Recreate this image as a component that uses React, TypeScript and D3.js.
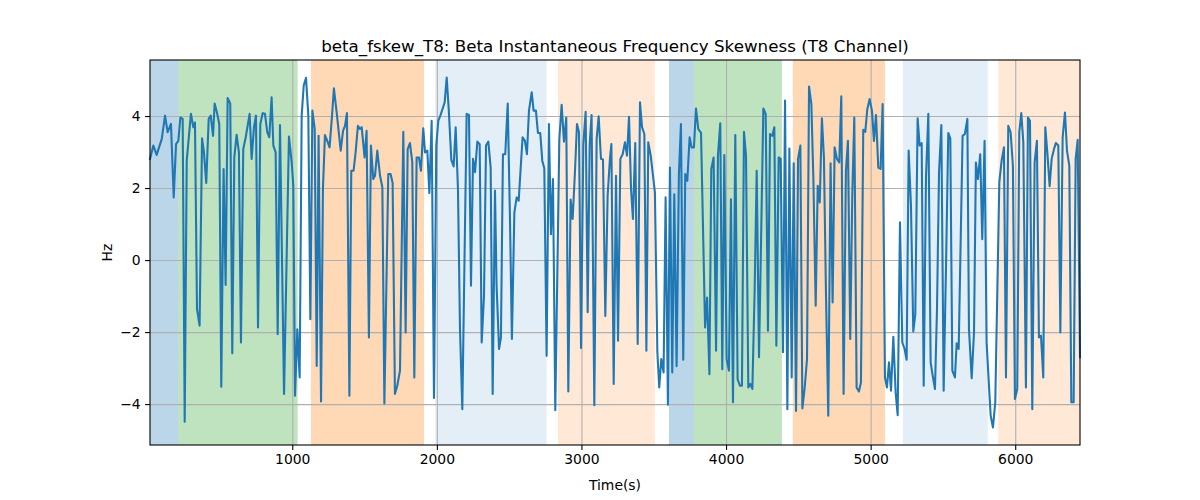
import { useEffect, useRef } from "react";
import * as d3 from "d3";

const W = 1200, H = 500;
const M = { top: 60, right: 120, bottom: 55, left: 150 };

const TITLE = "beta_fskew_T8: Beta Instantaneous Frequency Skewness (T8 Channel)";
const X_LABEL = "Time(s)";
const Y_LABEL = "Hz";

const X_TICKS = [1000, 2000, 3000, 4000, 5000, 6000];
const Y_TICKS = [-4, -2, 0, 2, 4];

// shaded periods
const regionStart = [16, 212, 1129, 1989, 2837, 3605, 3778, 4462, 5224, 5882];
const regionEnd   = [212, 1037, 1911, 2759, 3508, 3778, 4386, 5099, 5810, 6448];
const regionColor = ["#1f77b4", "#2ca02c", "#ff7f0e", "#1f77b4", "#ff7f0e", "#1f77b4", "#2ca02c", "#ff7f0e", "#1f77b4", "#ff7f0e"];
const regionAlpha = [0.3, 0.3, 0.3, 0.12, 0.17, 0.3, 0.3, 0.3, 0.12, 0.17];

const times = [
  16, 39, 62, 97, 120, 138, 161, 180, 196, 212, 226, 242, 256, 270, 299, 316, 327, 341, 359, 376,
  389, 405, 422, 436, 452, 463, 479, 495, 509, 525, 539, 553, 571, 585, 599, 615, 631, 645, 661, 678,
  705, 719, 735, 749, 763, 779, 795, 811, 827, 841, 857, 869, 885, 899, 915, 943, 977, 996, 1007, 1019,
  1035, 1051, 1065, 1079, 1095, 1111, 1125, 1139, 1155, 1169, 1182, 1199, 1212, 1226, 1242, 1258, 1275, 1288, 1307, 1335,
  1351, 1365, 1378, 1395, 1408, 1424, 1438, 1454, 1468, 1480, 1500, 1514, 1530, 1544, 1560, 1572, 1588, 1607, 1623, 1637,
  1664, 1680, 1694, 1710, 1726, 1745, 1768, 1784, 1798, 1814, 1830, 1844, 1860, 1876, 1890, 1906, 1918, 1934, 1948, 1964,
  1980, 1996, 2010, 2024, 2038, 2054, 2068, 2082, 2100, 2116, 2130, 2146, 2160, 2176, 2206, 2222, 2236, 2250, 2264, 2280,
  2296, 2310, 2326, 2340, 2356, 2372, 2386, 2402, 2413, 2430, 2443, 2457, 2473, 2490, 2506, 2519, 2536, 2552, 2566, 2582,
  2593, 2609, 2623, 2637, 2656, 2669, 2685, 2699, 2715, 2729, 2743, 2759, 2775, 2789, 2803, 2819, 2847, 2863, 2879, 2895,
  2909, 2925, 2939, 2955, 2969, 2983, 2997, 3013, 3029, 3043, 3057, 3070, 3089, 3105, 3119, 3135, 3149, 3165, 3181, 3197,
  3207, 3223, 3239, 3253, 3269, 3285, 3301, 3315, 3329, 3343, 3356, 3372, 3389, 3405, 3419, 3435, 3449, 3462, 3479, 3495,
  3508, 3525, 3538, 3552, 3568, 3582, 3598, 3612, 3628, 3642, 3658, 3674, 3688, 3704, 3718, 3732, 3748, 3762, 3778, 3792,
  3808, 3827, 3855, 3869, 3885, 3898, 3914, 3931, 3944, 3960, 3974, 3988, 4004, 4020, 4034, 4048, 4064, 4080, 4096, 4110,
  4124, 4138, 4154, 4168, 4182, 4198, 4212, 4228, 4242, 4258, 4274, 4290, 4304, 4320, 4334, 4348, 4364, 4378, 4394, 4408,
  4424, 4438, 4454, 4468, 4484, 4498, 4514, 4528, 4544, 4560, 4574, 4590, 4604, 4620, 4634, 4648, 4663, 4677, 4691, 4707,
  4723, 4737, 4751, 4767, 4783, 4797, 4813, 4829, 4843, 4859, 4873, 4887, 4903, 4919, 4933, 4949, 4963, 4977, 4993, 5009,
  5023, 5037, 5053, 5069, 5083, 5099, 5113, 5127, 5141, 5157, 5173, 5187, 5203, 5219, 5235, 5249, 5263, 5279, 5295, 5309,
  5325, 5339, 5353, 5367, 5383, 5399, 5415, 5429, 5445, 5459, 5473, 5489, 5505, 5521, 5537, 5551, 5565, 5583, 5595, 5609,
  5636, 5652, 5669, 5680, 5699, 5715, 5728, 5742, 5758, 5772, 5788, 5802, 5830, 5846, 5862, 5890, 5906, 5922, 5936, 5952,
  5968, 5984, 5998, 6014, 6028, 6042, 6056, 6074, 6088, 6102, 6118, 6134, 6150, 6164, 6178, 6194, 6208, 6222, 6238, 6252,
  6268, 6281, 6298, 6312, 6328, 6344, 6358, 6374, 6388, 6404, 6418, 6432, 6448,
];

const values = [
  2.81, 3.18, 2.92, 3.36, 4.01, 3.55, 3.78, 1.74, 3.22, 3.31, 3.96, 3.92, -4.49, 2.76, 4.06, 3.69, 3.82, -1.36, -1.82, 3.38,
  2.99, 2.14, 3.92, 4.01, 3.45, 4.35, 4.10, 3.78, -3.52, 2.53, -0.69, 4.50, 4.35, -2.59, 2.85, 3.48, 2.99, -2.29, 3.08, 3.41,
  4.06, 2.81, 3.69, 4.01, -1.87, 3.78, 4.08, 4.06, 3.55, 3.41, 4.52, 3.18, 2.99, -2.06, 3.75, -3.72, 3.43, 2.71, 2.06, -3.77,
  -1.92, -3.26, 4.01, 4.84, 5.06, 4.01, -1.64, 4.15, 3.64, -2.94, 3.45, -3.93, 1.97, 3.47, 3.31, 3.13, 4.01, 4.77, 4.10, 3.04,
  3.59, 3.73, 4.08, -3.77, 2.48, 2.48, 2.99, 3.73, 3.64, 3.69, 2.85, 3.59, -2.15, 3.18, 2.25, 2.34, 3.04, 2.34, 2.02, -3.98,
  2.39, 2.39, 2.14, -3.72, -3.49, -3.07, 3.56, -2.01, 3.08, 3.25, 2.71, -3.26, 2.85, 2.85, 2.48, 3.66, 2.99, 3.04, 1.86, 3.87,
  -3.83, 3.18, 3.87, 4.01, 4.18, 4.38, 5.07, 4.19, 2.78, 2.60, 3.69, 1.97, -1.92, -4.14, 4.06, 4.03, -0.71, 2.81, 2.44, 3.29,
  3.22, -2.29, -0.99, 3.18, 3.29, 2.57, -3.72, 1.93, -0.71, -2.47, -2.15, 2.94, 2.94, 4.35, 1.05, -2.19, 1.32, 1.74, 1.65, 2.71,
  3.41, 3.31, 2.94, 4.15, 4.66, 4.15, 4.15, 3.53, 3.53, 2.76, 2.55, -2.66, 3.78, 0.72, 2.25, -4.17, 3.36, 4.31, 3.29, 3.96,
  -3.65, 1.68, 1.14, 2.44, 3.78, 3.55, -2.44, 3.22, 4.12, -1.45, 3.22, 4.03, -4.03, 3.36, 3.99, 2.81, 2.79, -1.55, 1.79, 2.81,
  3.22, -3.44, 2.34, -2.24, 2.81, 2.94, 3.27, 2.90, 3.98, 1.97, 1.14, 3.25, -2.33, 4.38, 3.69, 3.50, -2.52, 3.27, 2.90, 2.34,
  1.88, -2.56, -3.54, -2.75, -3.12, 1.74, -4.02, 2.57, -3.12, 1.83, -2.95, 2.39, 3.78, -2.77, 2.39, 2.20, 3.41, 3.13, 3.13, 4.21,
  3.64, 3.53, -1.87, -1.04, -3.17, 2.53, 2.85, -2.52, 2.90, 3.80, -3.03, 2.92, -2.75, -3.07, 1.69, -3.95, 3.47, -3.31, -3.49, -3.49,
  3.56, 2.90, -3.54, -3.44, -3.58, -0.81, 2.48, -2.70, 0.49, 4.21, 4.06, -1.96, 3.50, 3.45, 3.69, -2.38, 2.85, 2.81, -2.56, 4.43,
  -4.14, 3.10, -3.26, 2.69, -4.19, 2.81, 3.18, -4.12, -3.54, -2.75, 4.82, 4.33, 2.25, -1.27, 2.06, 1.60, 3.94, 2.85, -0.90, -4.32,
  2.69, -1.18, 3.13, 2.81, 2.71, 4.55, -3.72, 2.48, 3.31, -2.19, 1.79, 3.96, -3.54, -3.65, -3.40, 3.62, 3.56, 4.19, 4.47, 4.15,
  3.31, 4.03, 2.57, 2.53, 4.33, -3.26, -3.54, -2.84, -3.63, -2.13, -3.68, -4.31, 1.05, -2.29, -2.47, -2.77, 3.04, 1.51, -1.98, -1.50,
  3.94, 3.18, 3.25, -3.49, 2.34, 4.06, -2.84, -3.21, -3.58, -1.36, 2.44, 3.75, -3.63, -0.25, 3.53, 3.38, -3.07, -3.26, -2.31, -2.47,
  3.45, 3.50, 3.92, -1.92, -3.28, -2.01, 2.71, 2.25, 2.94, 0.58, 3.31, -2.29, -4.32, -4.65, -3.95, 2.16, 2.76, 3.13, -3.26, 3.73,
  3.55, 2.62, -3.86, -3.58, 3.55, 4.08, 3.27, -3.54, 3.96, 3.87, -4.14, 2.71, 3.31, -2.15, -2.10, -3.26, 3.69, 2.99, 2.05, 2.81,
  3.08, 3.25, 3.18, -2.01, 3.41, 4.10, 3.04, 2.62, -3.95, -3.95, 2.81, 3.34, -2.70,
];

const FONT = "DejaVu Sans, sans-serif";

export default function App() {
  const svgRef = useRef<SVGSVGElement>(null);

  useEffect(() => {
    if (!svgRef.current) return;
    const svg = d3.select(svgRef.current);
    svg.selectAll("*").remove();

    const iW = W - M.left - M.right, iH = H - M.top - M.bottom;
    const data = times.map((t, i) => ({ t, v: values[i] }));

    const x = d3.scaleLinear().domain(d3.extent(times) as [number, number]).range([0, iW]);
    const [vMin, vMax] = d3.extent(values) as [number, number];
    const pad = (vMax - vMin) * 0.05;
    const y = d3.scaleLinear().domain([vMin - pad, vMax + pad]).range([iH, 0]);

    svg.append("rect").attr("width", W).attr("height", H).attr("fill", "#fff");

    const g = svg.append("g").attr("transform", `translate(${M.left},${M.top})`);

    // Shaded spans
    regionStart.forEach((s, i) => {
      g.append("rect")
        .attr("x", x(s)).attr("y", 0)
        .attr("width", x(regionEnd[i]) - x(s)).attr("height", iH)
        .attr("fill", regionColor[i]).attr("fill-opacity", regionAlpha[i]);
    });

    // Grid
    g.append("g")
      .call(d3.axisBottom(x).tickValues(X_TICKS).tickSize(iH).tickFormat(() => ""))
      .call(s => s.select(".domain").remove())
      .call(s => s.selectAll("line").attr("stroke", "#b0b0b0").attr("stroke-width", 1.1));
    g.append("g")
      .call(d3.axisLeft(y).tickValues(Y_TICKS).tickSize(-iW).tickFormat(() => ""))
      .call(s => s.select(".domain").remove())
      .call(s => s.selectAll("line").attr("stroke", "#b0b0b0").attr("stroke-width", 1.1));

    // Series
    const line = d3.line<{ t: number; v: number }>().x(d => x(d.t)).y(d => y(d.v));
    g.append("path").datum(data)
      .attr("d", line).attr("fill", "none")
      .attr("stroke", "#1f77b4").attr("stroke-width", 2.08)
      .attr("stroke-linejoin", "round").attr("stroke-linecap", "square");

    // Frame
    g.append("rect").attr("width", iW).attr("height", iH)
      .attr("fill", "none").attr("stroke", "#000").attr("stroke-width", 1.1);

    // Axes
    g.append("g").attr("transform", `translate(0,${iH})`)
      .call(d3.axisBottom(x).tickValues(X_TICKS).tickSize(4.9).tickPadding(4.5).tickFormat(d3.format("d")))
      .call(s => s.select(".domain").remove())
      .call(s => s.selectAll("line").attr("stroke", "#000").attr("stroke-width", 1.1))
      .call(s => s.selectAll("text").attr("font-family", FONT).attr("font-size", 13.9).attr("fill", "#000"));
    g.append("g")
      .call(d3.axisLeft(y).tickValues(Y_TICKS).tickSize(4.9).tickPadding(4.5).tickFormat(d3.format("d")))
      .call(s => s.select(".domain").remove())
      .call(s => s.selectAll("line").attr("stroke", "#000").attr("stroke-width", 1.1))
      .call(s => s.selectAll("text").attr("font-family", FONT).attr("font-size", 13.9).attr("fill", "#000"));

    svg.append("text")
      .attr("x", M.left + iW / 2).attr("y", M.top - 8)
      .attr("text-anchor", "middle").attr("font-family", FONT).attr("font-size", 16.7)
      .text(TITLE);
    svg.append("text")
      .attr("x", M.left + iW / 2).attr("y", H - 10)
      .attr("text-anchor", "middle").attr("font-family", FONT).attr("font-size", 13.9)
      .text(X_LABEL);
    svg.append("text")
      .attr("transform", `translate(${M.left - 38},${M.top + iH / 2}) rotate(-90)`)
      .attr("text-anchor", "middle").attr("font-family", FONT).attr("font-size", 13.9)
      .text(Y_LABEL);
  }, []);

  return (
    <svg ref={svgRef} width={W} height={H}
      style={{ position: "absolute", left: 0, top: 0, display: "block" }} />
  );
}
